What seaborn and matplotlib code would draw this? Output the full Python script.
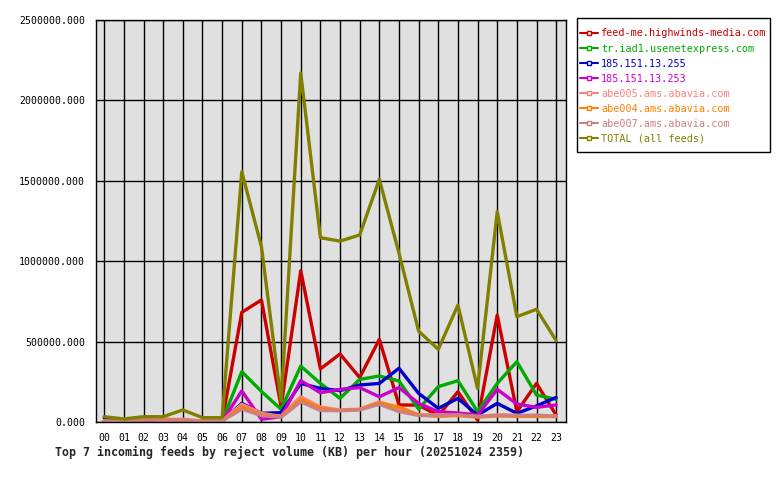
import matplotlib
matplotlib.use("Agg")
import matplotlib.pyplot as plt
from matplotlib.lines import Line2D
from matplotlib.patches import Rectangle
import seaborn as sns
import pandas as pd

hours = ["%02d" % h for h in range(24)]

feeds = [
    "feed-me.highwinds-media.com",
    "tr.iad1.usenetexpress.com",
    "185.151.13.255",
    "185.151.13.253",
    "abe005.ams.abavia.com",
    "abe004.ams.abavia.com",
    "abe007.ams.abavia.com",
    "TOTAL (all feeds)",
]
colors = ["#cc0000", "#00aa00", "#0000cc", "#cc00cc",
          "#ff8080", "#ff8000", "#cc8080", "#808000"]

feed_me = [5000, 3000, 8000, 6000, 10000, 4000, 6000, 682000, 759000, 95000, 941000, 330000,
           423000, 276000, 514000, 106000, 105000, 40000, 188000, 12000, 665000, 64000, 240000, 43000]
iad1 = [4000, 3000, 5000, 4000, 8000, 3000, 5000, 313000, 190000, 79000, 348000, 240000,
        147000, 265000, 286000, 255000, 80000, 220000, 257000, 64000, 240000, 375000, 168000, 141000]
ip255 = [27000, 4000, 6000, 5000, 6000, 4000, 5000, 116000, 54000, 58000, 240000, 209000,
         195000, 230000, 240000, 334000, 178000, 85000, 147000, 43000, 116000, 54000, 100000, 153000]
ip253 = [3000, 2000, 4000, 3000, 5000, 2000, 4000, 193000, 17000, 33000, 257000, 182000,
         203000, 214000, 157000, 214000, 116000, 64000, 56000, 43000, 203000, 112000, 91000, 106000]
abe005 = [6000, 4000, 20000, 12000, 18000, 6000, 8000, 110000, 54000, 35000, 157000, 93000,
          75000, 80000, 125000, 80000, 43000, 45000, 42000, 35000, 45000, 42000, 40000, 38000]
abe004 = [4000, 3000, 12000, 20000, 10000, 5000, 6000, 95000, 45000, 33000, 140000, 85000,
          72000, 78000, 120000, 93000, 45000, 35000, 40000, 30000, 38000, 35000, 35000, 33000]
abe007 = [5000, 4000, 15000, 10000, 14000, 5000, 7000, 80000, 40000, 30000, 125000, 72000,
          70000, 75000, 110000, 65000, 40000, 40000, 45000, 33000, 40000, 40000, 42000, 36000]
total = [33000, 19000, 33000, 33000, 75000, 27000, 27000, 1556000, 1090000, 130000, 2170000, 1146000,
         1125000, 1163000, 1509000, 1050000, 565000, 452000, 727000, 209000, 1308000, 655000, 701000, 506000]

series = [feed_me, iad1, ip255, ip253, abe005, abe004, abe007, total]
rows = []
for name, vals in zip(feeds, series):
    for h, v in enumerate(vals):
        rows.append({"hour": h, "KB": v, "feed": name})
df = pd.DataFrame(rows)

sns.set_style("white")
plt.rcParams["font.family"] = ["DejaVu Sans Mono"]

fig = plt.figure(figsize=(7.8, 4.8), dpi=100)
ax = fig.add_axes([96 / 780, 58 / 480, 470 / 780, 402 / 480])
ax.set_facecolor("#e0e0e0")

sns.lineplot(data=df, x="hour", y="KB", hue="feed", hue_order=feeds,
             palette=dict(zip(feeds, colors)), linewidth=2.4, ax=ax, legend=False)

ax.set_xlim(-0.42, 23.5)
ax.set_ylim(0, 2500000)
ax.set_xticks(range(24))
ax.set_xticklabels(hours)
ax.set_yticks([0, 500000, 1000000, 1500000, 2000000, 2500000])
ax.yaxis.set_major_formatter(matplotlib.ticker.FormatStrFormatter("%.3f"))
ax.grid(True, color="black", linewidth=1)
ax.set_axisbelow(True)
ax.tick_params(axis="both", direction="out", length=4, width=1, colors="black", labelsize=7.1)
ax.tick_params(axis="y", length=5, pad=3)
ax.tick_params(axis="x", pad=4)
for s in ax.spines.values():
    s.set_color("black")
    s.set_linewidth(1)
ax.set_xlabel("")
ax.set_ylabel("")

# legend box drawn by hand so its padding matches
fig.patches.append(Rectangle((577 / 780, 1 - 152 / 480), 193 / 780, 134 / 480,
                             transform=fig.transFigure, facecolor="white",
                             edgecolor="black", linewidth=1))
handles = [Line2D([0], [0], color=c, linewidth=1.5, marker="s", markersize=2.5,
                  markerfacecolor="white", markeredgecolor=c) for c in colors]
leg = fig.legend(handles, feeds, loc="upper left", bbox_to_anchor=(580 / 780, 1 - 28.5 / 480),
                 frameon=False, prop={"family": "DejaVu Sans Mono", "size": 7.3},
                 labelcolor="linecolor", handlelength=1.8, handletextpad=0.3,
                 labelspacing=0.5, borderpad=0, borderaxespad=0)

fig.text(55 / 780, 1 - 452 / 480, "Top 7 incoming feeds by reject volume (KB) per hour (20251024 2359)",
         fontsize=8.4, fontweight="bold", va="center", ha="left")

fig.savefig("out.png", dpi=100, facecolor="white")
